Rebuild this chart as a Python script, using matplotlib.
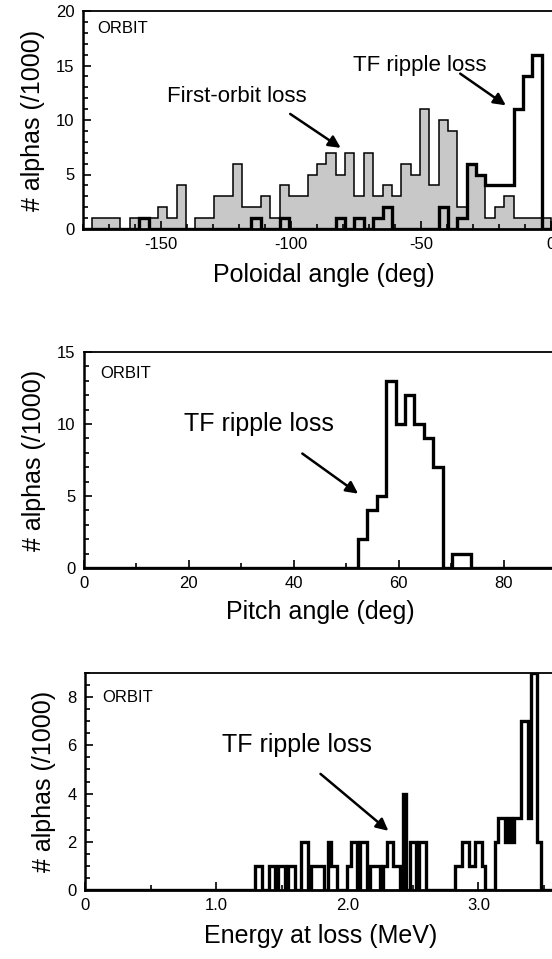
import matplotlib
matplotlib.use("Agg")
import matplotlib.pyplot as plt
import numpy as np
from matplotlib.ticker import MultipleLocator

plt.rcParams['font.family'] = ['Liberation Sans', 'DejaVu Sans']
plt.rcParams['axes.unicode_minus'] = False

# ---- panel 1: poloidal angle, 3.6 deg bins from -180 to 0
pol_edges = np.linspace(-180, 0, 51)
first_orbit = [0, 1, 1, 1, 0, 1, 1, 1, 2, 1,
               4, 0, 1, 1, 3, 3, 6, 2, 2, 3,
               1, 4, 3, 3, 5, 6, 7, 5, 7, 3,
               7, 3, 4, 3, 6, 5, 11, 4, 10, 9,
               2, 6, 5, 1, 2, 3, 1, 1, 1, 1]
ripple_pol = [0, 0, 0, 0, 0, 0, 1, 0, 0, 0,
              0, 0, 0, 0, 0, 0, 0, 0, 1, 0,
              0, 1, 0, 0, 0, 0, 0, 1, 0, 1,
              0, 1, 2, 0, 0, 0, 0, 0, 2, 0,
              1, 6, 5, 4, 4, 4, 11, 14, 16, 0]

# ---- panel 2: pitch angle, 1.8 deg bins from 0 to 90
pitch_edges = np.linspace(0, 90, 51)
ripple_pitch = [0] * 29 + [2, 4, 5, 13, 10, 12, 10, 9, 7, 0, 1, 1] + [0] * 9

# ---- panel 3: energy at loss (MeV), step edges and counts
energy_edges = [0.0, 1.300, 1.350, 1.400, 1.450, 1.475, 1.525, 1.550, 1.600, 1.650,
                1.700, 1.725, 1.825, 1.850, 1.875, 1.925, 2.000, 2.025, 2.075, 2.100,
                2.150, 2.175, 2.250, 2.275, 2.300, 2.350, 2.400, 2.425, 2.450, 2.475,
                2.525, 2.550, 2.600, 2.825, 2.875, 2.925, 2.975, 3.025, 3.050, 3.125,
                3.150, 3.200, 3.225, 3.250, 3.275, 3.325, 3.375, 3.400, 3.450, 3.475,
                3.600]
ripple_energy = [0, 1, 0, 1, 0, 1, 0, 1, 0, 2,
                 0, 1, 0, 2, 1, 0, 1, 2, 0, 2,
                 0, 1, 0, 1, 2, 1, 0, 4, 0, 2,
                 0, 2, 0, 1, 2, 1, 2, 1, 0, 2,
                 3, 2, 3, 2, 3, 7, 3, 9, 2, 0]
energy_ticks = [0, 1, 2, 3]
energy_ticklabels = ['0', '1.0', '2.0', '3.0']

W, H = 552, 959
fig = plt.figure(figsize=(W / 100, H / 100), dpi=100)


def box(l, r, t, b):
    return [l / W, (H - b) / H, (r - l) / W, (b - t) / H]


def style(ax):
    for s in ax.spines.values():
        s.set_linewidth(1.3)
    ax.spines['left'].set_linewidth(1.8)
    ax.spines['bottom'].set_linewidth(2.0)
    ax.tick_params(which='both', direction='in', labelsize=12, width=1.2,
                   top=False, right=False)
    ax.tick_params(which='major', length=6, pad=6)
    ax.tick_params(which='minor', length=3.5)
    ax.set_ylabel('# alphas (/1000)', fontsize=18, labelpad=8)


thick = 2.4
txt = 16
arrow = dict(arrowstyle='-|>', lw=1.8, color='black', mutation_scale=18)

# top panel
ax1 = fig.add_axes(box(83, 564, 11, 229))
ax1.stairs(first_orbit, pol_edges, fill=True, color='#c8c8c8')
ax1.stairs(first_orbit, pol_edges, color='black', lw=1.1)
ax1.stairs(ripple_pol, pol_edges, color='black', lw=thick)
ax1.set_xlim(-180, 5)
ax1.set_ylim(0, 20)
ax1.set_xticks([-150, -100, -50, 0])
ax1.xaxis.set_minor_locator(MultipleLocator(10))
ax1.yaxis.set_major_locator(MultipleLocator(5))
ax1.yaxis.set_minor_locator(MultipleLocator(1))
style(ax1)
ax1.set_xlabel('Poloidal angle (deg)', fontsize=18, labelpad=8)
ax1.text(-174.6, 18.4, 'ORBIT', fontsize=12, ha='left', va='center')
ax1.text(-120.8, 12.2, 'First-orbit loss', fontsize=txt, ha='center', va='center')
ax1.annotate('', xy=(-80, 7.3), xytext=(-101.2, 10.7), arrowprops=arrow)
ax1.text(-50.4, 15.0, 'TF ripple loss', fontsize=txt, ha='center', va='center')
ax1.annotate('', xy=(-16.5, 11.2), xytext=(-35.8, 14.4), arrowprops=arrow)

# middle panel
ax2 = fig.add_axes(box(84, 556, 352, 568))
ax2.stairs(ripple_pitch, pitch_edges, color='black', lw=thick)
ax2.set_xlim(0, 90)
ax2.set_ylim(0, 15)
ax2.set_xticks([0, 20, 40, 60, 80])
ax2.xaxis.set_minor_locator(MultipleLocator(10))
ax2.yaxis.set_major_locator(MultipleLocator(5))
ax2.yaxis.set_minor_locator(MultipleLocator(1))
style(ax2)
ax2.set_xlabel('Pitch angle (deg)', fontsize=18, labelpad=6)
ax2.text(3.05, 13.5, 'ORBIT', fontsize=12, ha='left', va='center')
ax2.text(33.4, 10.0, 'TF ripple loss', fontsize=18, ha='center', va='center')
ax2.annotate('', xy=(52.7, 5.05), xytext=(41.2, 8.06), arrowprops=arrow)

# bottom panel
ax3 = fig.add_axes(box(85, 557, 673, 890))
ax3.stairs(ripple_energy, energy_edges, color='black', lw=thick)
ax3.set_xlim(0, 3.6)
ax3.set_ylim(0, 9)
ax3.set_xticks(energy_ticks, energy_ticklabels)
ax3.xaxis.set_minor_locator(MultipleLocator(0.5))
ax3.yaxis.set_major_locator(MultipleLocator(2))
ax3.yaxis.set_minor_locator(MultipleLocator(0.5))
style(ax3)
ax3.set_xlabel('Energy at loss (MeV)', fontsize=18, labelpad=8)
ax3.text(0.13, 7.97, 'ORBIT', fontsize=12, ha='left', va='center')
ax3.text(1.62, 6.0, 'TF ripple loss', fontsize=18, ha='center', va='center')
ax3.annotate('', xy=(2.33, 2.38), xytext=(1.78, 4.89), arrowprops=arrow)

fig.savefig('out.png', dpi=100)
